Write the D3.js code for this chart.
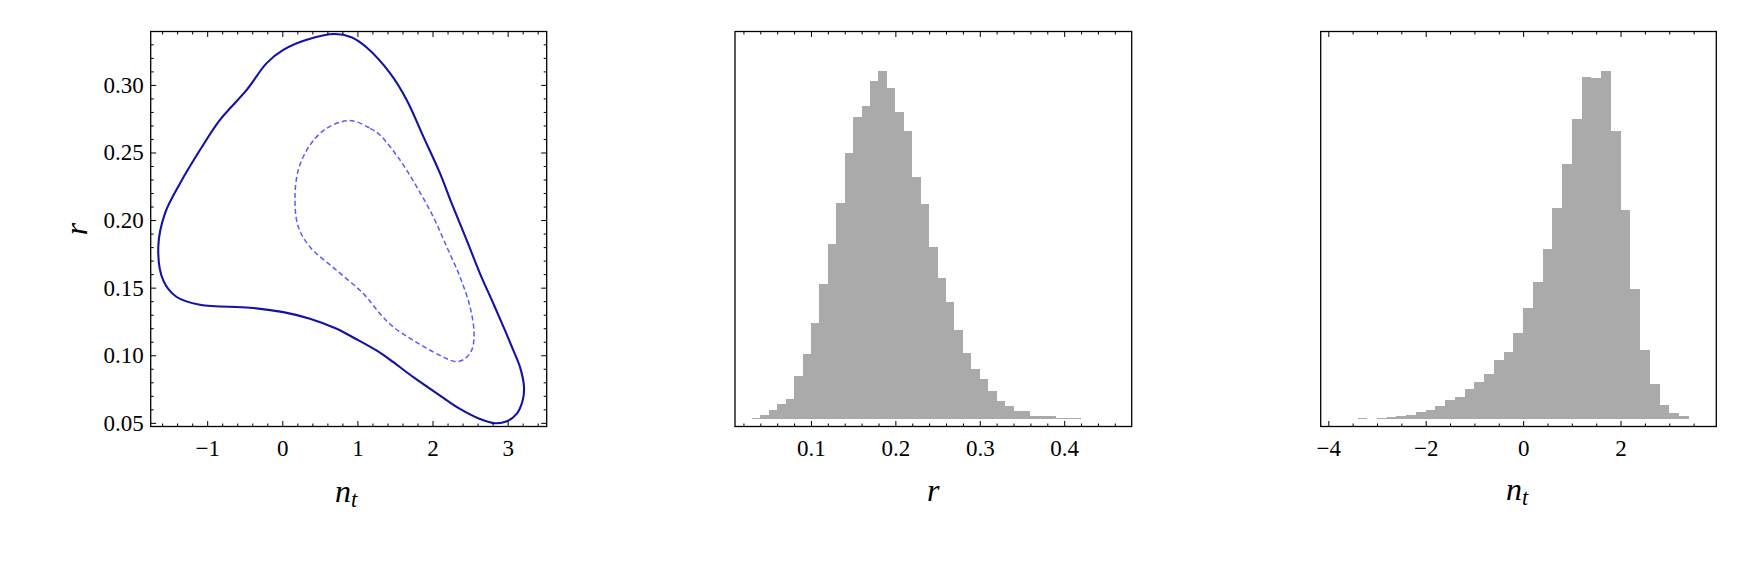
<!DOCTYPE html>
<html><head><meta charset="utf-8">
<script src="https://cdn.jsdelivr.net/npm/d3@7"></script>
<style>
body{margin:0;background:#fff}
text{font-family:"Liberation Serif","Times New Roman",serif;fill:#000}
</style>
</head><body><svg id="c" width="1746" height="578"></svg>
<script>
// ---------- DATA ----------
// 2D credible contours in the (n_t, r) plane
const outerContour = [
  [0.325,0.3334],[0.70,0.3376],[0.92,0.3352],[1.12,0.3278],[1.434,0.3087],[1.656,0.2889],
  [1.878,0.2617],[2.10,0.2345],[2.255,0.2123],[2.455,0.1851],[2.632,0.1604],[2.81,0.1382],
  [2.965,0.1184],[3.076,0.1036],[3.165,0.0912],[3.218,0.0764],[3.20,0.0665],[3.12,0.0566],
  [2.99,0.0512],[2.83,0.0497],[2.63,0.0529],[2.366,0.0603],[2.10,0.0702],[1.745,0.0838],
  [1.478,0.0949],[1.30,0.1020],[0.97,0.1124],[0.724,0.1196],[0.369,0.1270],[0.013,0.1319],
  [-0.43,0.1352],[-1.096,0.1374],[-1.406,0.1431],[-1.585,0.1554],[-1.651,0.1801],[-1.562,0.2049],
  [-1.362,0.2271],[-1.096,0.2518],[-0.83,0.2741],[-0.474,0.2963],[-0.208,0.3161],[0.013,0.3259]
];
const innerContour = [
  [0.90,0.2736],[1.17,0.2679],[1.30,0.2629],[1.567,0.2444],[1.79,0.2246],[2.01,0.2024],
  [2.19,0.1801],[2.366,0.1579],[2.50,0.1356],[2.553,0.1159],[2.52,0.1036],[2.41,0.0967],
  [2.30,0.0954],[2.10,0.0999],[1.745,0.1110],[1.478,0.1209],[1.30,0.1308],[1.079,0.1456],
  [0.724,0.1628],[0.369,0.1801],[0.213,0.1950],[0.169,0.2147],[0.213,0.2370],[0.369,0.2555],
  [0.591,0.2679]
];
// histogram of r
const rBinStart = 0.03, rBinWidth = 0.01;
const rCounts = [3,11,26,44,59,128,195,287,404,524,647,797,904,938,1012,1043,992,920,863,725,
  645,515,422,350,266,198,149,119,84,54,38,24,24,9,9,9,3,3,3];
// histogram of n_t
const ntBinStart = -3.4, ntBinWidth = 0.2;
const ntCounts = [2,0,3,6,8,11,20,27,38,57,65,89,110,134,176,200,256,332,409,508,
  631,763,899,1025,1022,1043,863,626,389,206,104,41,17,8];
// tick values
const contourXTicks = [-1,0,1,2,3];
const contourYTicks = [0.05,0.10,0.15,0.20,0.25,0.30];
const rTicks = [0.1,0.2,0.3,0.4];
const ntTicks = [-4,-2,0,2];

// ---------- LAYOUT ----------
const svg = d3.select("#c");
svg.append("rect").attr("width",1746).attr("height",578).attr("fill","#fff");
const TOP = 31.5, BOT = 426.5;
const MAJ = 5.5, MIN = 3;
const TICKFONT = 23, LABFONT = 32;
const SERIF = "'Liberation Serif','Times New Roman',serif";

function styleAxis(g){
  g.attr("font-family",SERIF);
  g.select(".domain").remove();
  g.selectAll("line").attr("stroke","#000").attr("stroke-width",1);
  g.selectAll("text").attr("font-size",TICKFONT).attr("fill","#000").attr("font-family",SERIF);
}
function range(a,b,s){const o=[];for(let v=a;v<=b+1e-9;v+=s)o.push(+v.toFixed(6));return o;}

function frame(x0,x1){
  svg.append("rect").attr("x",x0).attr("y",TOP).attr("width",x1-x0).attr("height",BOT-TOP)
    .attr("fill","none").attr("stroke","#000").attr("stroke-width",1.3);
}
function xTicks(x, majors, minors, fmt, pad){
  svg.append("g").attr("transform",`translate(0,${BOT})`)
    .call(d3.axisBottom(x).tickValues(majors).tickSize(-MAJ).tickPadding(pad).tickFormat(fmt)).call(styleAxis);
  svg.append("g").attr("transform",`translate(0,${BOT})`)
    .call(d3.axisBottom(x).tickValues(minors).tickSize(-MIN).tickFormat("")).call(styleAxis);
  svg.append("g").attr("transform",`translate(0,${TOP})`)
    .call(d3.axisTop(x).tickValues(majors).tickSize(-MAJ).tickFormat("")).call(styleAxis);
  svg.append("g").attr("transform",`translate(0,${TOP})`)
    .call(d3.axisTop(x).tickValues(minors).tickSize(-MIN).tickFormat("")).call(styleAxis);
}
function xLabelNt(cx, base){
  const t = svg.append("text").attr("x",cx).attr("y",base).attr("text-anchor","middle")
    .attr("font-size",LABFONT).attr("font-style","italic").attr("font-family",SERIF);
  t.append("tspan").text("n");
  t.append("tspan").attr("font-size",LABFONT*0.7).attr("dy",5).text("t");
}

// ---------- PANEL 1: contours ----------
const x1 = d3.scaleLinear().domain([-1.752,3.52]).range([150.7,546.7]);
const y1 = d3.scaleLinear().domain([0.0473,0.3395]).range([BOT,TOP]);
const line1 = d3.line().x(d=>x1(d[0])).y(d=>y1(d[1])).curve(d3.curveCatmullRomClosed.alpha(0.5));
svg.append("path").attr("d",line1(outerContour)).attr("fill","none")
  .attr("stroke","#1212a6").attr("stroke-width",2.1);
svg.append("path").attr("d",line1(innerContour)).attr("fill","none")
  .attr("stroke","#5a5aff").attr("stroke-width",1.5).attr("stroke-dasharray","5,3");
frame(150.7,546.7);
xTicks(x1, contourXTicks, range(-1.6,3.4,0.2).filter(v=>Math.abs(v-Math.round(v))>1e-6), d3.format("d"), 13);
svg.append("g").attr("transform",`translate(150.7,0)`)
  .call(d3.axisLeft(y1).tickValues(contourYTicks).tickSize(-MAJ).tickPadding(7).tickFormat(d3.format(".2f"))).call(styleAxis);
const yMin = range(0.05,0.33,0.01).filter(v=>Math.abs(v*20-Math.round(v*20))>1e-6);
svg.append("g").attr("transform",`translate(150.7,0)`)
  .call(d3.axisLeft(y1).tickValues(yMin).tickSize(-MIN).tickFormat("")).call(styleAxis);
svg.append("g").attr("transform",`translate(546.7,0)`)
  .call(d3.axisRight(y1).tickValues(contourYTicks).tickSize(-MAJ).tickFormat("")).call(styleAxis);
svg.append("g").attr("transform",`translate(546.7,0)`)
  .call(d3.axisRight(y1).tickValues(yMin).tickSize(-MIN).tickFormat("")).call(styleAxis);
xLabelNt(346, 501.5);
svg.append("text").attr("transform","translate(86.7,229) rotate(-90)").attr("text-anchor","middle")
  .attr("font-size",LABFONT).attr("font-style","italic").attr("font-family",SERIF).text("r");

// ---------- HISTOGRAMS ----------
function hist(counts, start, width, x, x0, x1p){
  const maxC = d3.max(counts);
  const y = d3.scaleLinear().domain([-0.0225*maxC, 1.1136*maxC]).range([BOT,TOP]);
  svg.append("g").selectAll("rect").data(counts.map((c,i)=>({c,i})).filter(d=>d.c>0)).join("rect")
    .attr("x",d=>x(start+d.i*width)).attr("width",d=>x(start+(d.i+1)*width)-x(start+d.i*width))
    .attr("y",d=>y(d.c)).attr("height",d=>y(0)-y(d.c))
    .attr("fill","#aaaaaa").attr("shape-rendering","crispEdges");
  frame(x0,x1p);
}
// panel 2: r
const x2 = d3.scaleLinear().domain([0.01,0.48]).range([735,1131.7]);
hist(rCounts, rBinStart, rBinWidth, x2, 735, 1131.7);
xTicks(x2, rTicks, range(0.02,0.46,0.02).filter(v=>Math.abs(v*10-Math.round(v*10))>1e-6), d3.format(".1f"), 13);
svg.append("text").attr("x",933.3).attr("y",500.7).attr("text-anchor","middle")
  .attr("font-size",LABFONT).attr("font-style","italic").attr("font-family",SERIF).text("r");

// panel 3: n_t
const x3 = d3.scaleLinear().domain([-4.156,3.966]).range([1320.7,1716.3]);
hist(ntCounts, ntBinStart, ntBinWidth, x3, 1320.7, 1716.3);
xTicks(x3, ntTicks, range(-4,3.5,0.5).filter(v=>Math.abs(v/2-Math.round(v/2))>1e-6), d3.format("d"), 13);
xLabelNt(1517, 500);
</script>
</body></html>
